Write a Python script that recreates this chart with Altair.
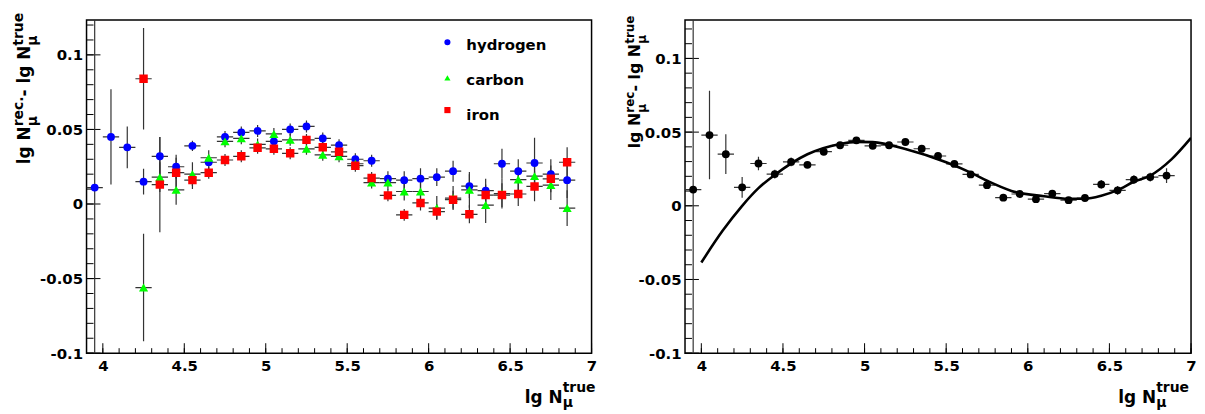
import altair as alt
import pandas as pd

FONT = "DejaVu Sans"

# ---------------- data ----------------
bin_centers = [3.95, 4.05, 4.15, 4.25, 4.35, 4.45, 4.55, 4.65, 4.75, 4.85,
               4.95, 5.05, 5.15, 5.25, 5.35, 5.45, 5.55, 5.65, 5.75, 5.85,
               5.95, 6.05, 6.15, 6.25, 6.35, 6.45, 6.55, 6.65, 6.75, 6.85]
bin_half = 0.05

hydrogen = [0.011, 0.045, 0.038, 0.015, 0.032, 0.025, 0.039, 0.028, 0.045, 0.048,
            0.049, 0.042, 0.050, 0.052, 0.044, 0.0395, 0.030, 0.029, 0.017, 0.016,
            0.017, 0.018, 0.022, 0.012, 0.009, 0.027, 0.022, 0.0275, 0.020, 0.016]
hydrogen_err = [0.15, 0.032, 0.014, 0.0087, 0.013, 0.008, 0.0035, 0.005, 0.004, 0.004,
                0.004, 0.004, 0.004, 0.004, 0.004, 0.004, 0.004, 0.004, 0.005, 0.006,
                0.007, 0.006, 0.007, 0.008, 0.008, 0.010, 0.008, 0.017, 0.010, 0.012]

heavy_centers = bin_centers[3:]
carbon = [-0.056, 0.018, 0.0095, 0.020, 0.031, 0.042, 0.044, 0.040, 0.047, 0.043,
          0.037, 0.033, 0.032, 0.027, 0.0144, 0.0144, 0.0084, 0.0084, -0.0027, 0.004,
          0.0095, -0.0007, 0.007, 0.0164, 0.0187, 0.0127, -0.0027]
carbon_err = [0.036, 0.010, 0.010, 0.008, 0.005, 0.004, 0.004, 0.004, 0.004, 0.004,
              0.004, 0.004, 0.004, 0.004, 0.004, 0.005, 0.006, 0.006, 0.008, 0.008,
              0.012, 0.012, 0.010, 0.008, 0.010, 0.010, 0.012]
iron = [0.084, 0.013, 0.021, 0.016, 0.021, 0.0295, 0.032, 0.0377, 0.037, 0.034,
        0.043, 0.038, 0.035, 0.0257, 0.0174, 0.0058, -0.0073, 0.0007, -0.0051, 0.0029,
        -0.0069, 0.006, 0.006, 0.0067, 0.0118, 0.0169, 0.028]
iron_err = [0.034, 0.032, 0.010, 0.006, 0.004, 0.004, 0.004, 0.004, 0.004, 0.004,
            0.004, 0.004, 0.004, 0.004, 0.004, 0.004, 0.004, 0.005, 0.005, 0.006,
            0.006, 0.007, 0.008, 0.008, 0.010, 0.009, 0.010]

mean_all = [0.011, 0.048, 0.035, 0.0125, 0.0287, 0.0215, 0.0298, 0.0278, 0.0367, 0.0411,
            0.0444, 0.0407, 0.0411, 0.0433, 0.0387, 0.0338, 0.0284, 0.0213, 0.014, 0.0055,
            0.008, 0.0045, 0.0082, 0.0038, 0.0053, 0.0145, 0.0105, 0.0178, 0.0195, 0.0205]
mean_err = [0.15, 0.030, 0.0135, 0.007, 0.0045, 0.003, 0.003, 0.002, 0.002, 0.002,
            0.002, 0.002, 0.002, 0.002, 0.002, 0.002, 0.002, 0.002, 0.002, 0.002,
            0.002, 0.002, 0.002, 0.002, 0.002, 0.003, 0.003, 0.003, 0.003, 0.005]

fit_x = [4.0, 4.13, 4.25, 4.35, 4.45, 4.65, 4.85, 4.95, 5.05, 5.25, 5.5, 5.65,
         5.75, 5.9, 6.1, 6.25, 6.35, 6.45, 6.55, 6.65, 6.75, 6.88, 7.0]
fit_y = [-0.0385, -0.017, 0.0, 0.012, 0.021, 0.035, 0.042, 0.0434, 0.0432, 0.0385,
         0.0295, 0.0225, 0.017, 0.0101, 0.0065, 0.0048, 0.0048, 0.0068, 0.0106,
         0.0163, 0.0205, 0.0315, 0.0461]

series_names = ["hydrogen", "carbon", "iron"]
series_colors = ["#0000ff", "#00ff00", "#ff0000"]
series_shapes = ["circle", "triangle-up", "square"]

y_major = [-0.1, -0.05, 0, 0.05, 0.1]
x_major = [4, 4.5, 5, 5.5, 6, 6.5, 7]
y_minor = [round(-0.1 + 0.01 * i, 2) for i in range(23)]
x_minor = [round(3.9 + 0.1 * i, 1) for i in range(1, 32)]

# ---------------- layout ----------------
W1, W2, H = 508, 509, 335
X_DOMAIN = [3.9, 7.0]
Y_DOMAIN_L = [-0.1, 0.1233]
Y_DOMAIN_R = [-0.1, 0.126]
one_row = pd.DataFrame({"k": [0]})

# DejaVu Sans Bold advance widths (em)
CW = {"l": 0.343, "g": 0.716, " ": 0.348, "N": 0.837, "r": 0.493, "e": 0.678,
      "c": 0.593, ".": 0.380, "-": 0.415, "t": 0.478, "u": 0.712, "\u03bc": 0.721}


def text_width(s, size):
    return sum(CW.get(c, 0.65) for c in s) * size


def series_frame(xs, ys, errs):
    return pd.DataFrame({
        "x": xs, "y": ys,
        "lo": [y - e for y, e in zip(ys, errs)],
        "hi": [y + e for y, e in zip(ys, errs)],
        "xl": [x - bin_half for x in xs],
        "xr": [x + bin_half for x in xs],
    })


def text_mark(txt, x, y, size, angle=0, align="left", baseline="alphabetic"):
    return alt.Chart(one_row).mark_text(
        text=txt, font=FONT, fontWeight="bold", fontSize=size, angle=angle,
        align=align, baseline=baseline, color="black"
    ).encode(x=alt.value(x), y=alt.value(y))


def y_title(pieces, start_y, base_x):
    marks = []
    y = start_y
    for group in pieces:
        adv = 0
        for txt, size, shift in group:
            marks.append(text_mark(txt, base_x + shift, y, size, angle=270))
            adv = max(adv, text_width(txt, size))
        y -= adv
    return marks


def x_title(right_end, base_y):
    sup_w = text_width("true", 14)
    sx = right_end - sup_w
    return [
        text_mark("lg N", sx, base_y, 17, align="right"),
        text_mark("true", sx, base_y - 11, 14),
        text_mark("\u03bc", sx, base_y + 4, 14),
    ]


def make_panel(width, ydom, series, fit=False, legend=False, ytitle=None, anchor=False):
    xs = alt.Scale(domain=X_DOMAIN, nice=False, zero=False)
    ys = alt.Scale(domain=ydom, nice=False, zero=False)
    common = dict(ticks=False, domain=False, grid=False, title=None,
                  labelFont=FONT, labelFontWeight="bold", labelFontSize=15,
                  labelColor="black", labelFlush=False, labelOverlap=False)
    xax = alt.Axis(values=x_major, labelPadding=5,
                   labelExpr="format(datum.value, '~g')", **common)
    yax = alt.Axis(values=y_major, labelPadding=4,
                   labelExpr="datum.value < 0 ? '-' + format(-datum.value, '~g') : format(datum.value, '~g')",
                   **common)

    def X(f):
        return alt.X(f, type="quantitative", scale=xs, axis=xax)

    def Y(f):
        return alt.Y(f, type="quantitative", scale=ys, axis=yax)

    layers = []
    # inward ticks
    layers.append(alt.Chart(pd.DataFrame({"v": y_minor})).mark_rule(color="black", strokeWidth=1)
                  .encode(y=Y("v"), x=alt.value(0), x2=alt.value(7)))
    layers.append(alt.Chart(pd.DataFrame({"v": y_major})).mark_rule(color="black", strokeWidth=1)
                  .encode(y=Y("v"), x=alt.value(0), x2=alt.value(14)))
    layers.append(alt.Chart(pd.DataFrame({"v": x_minor})).mark_rule(color="black", strokeWidth=1)
                  .encode(x=X("v"), y=alt.value(H), y2=alt.value(H - 5)))
    layers.append(alt.Chart(pd.DataFrame({"v": x_major})).mark_rule(color="black", strokeWidth=1)
                  .encode(x=X("v"), y=alt.value(H), y2=alt.value(H - 10)))

    # error bars
    for df, color, shape, size in series:
        layers.append(alt.Chart(df).mark_rule(color="#333333", strokeWidth=1.2, clip=True)
                      .encode(x=X("x"), y=Y("lo"), y2=alt.Y2("hi")))
        layers.append(alt.Chart(df).mark_rule(color="#333333", strokeWidth=1.2, clip=True)
                      .encode(x=X("xl"), x2=alt.X2("xr"), y=Y("y")))
    if fit:
        fdf = pd.DataFrame({"x": fit_x, "y": fit_y})
        layers.append(alt.Chart(fdf).mark_line(color="black", strokeWidth=2.6,
                                               interpolate="monotone", clip=True)
                      .encode(x=X("x"), y=Y("y")))
    for df, color, shape, size in series:
        layers.append(alt.Chart(df).mark_point(shape=shape, filled=True, size=size, color=color,
                                               opacity=1, strokeWidth=0, clip=True)
                      .encode(x=X("x"), y=Y("y")))

    if legend:
        mk_y = [22.3, 58, 90.5]
        tx_y = [29.7, 65.3, 100.3]
        for name, color, shape, my, ty in zip(series_names, series_colors, series_shapes, mk_y, tx_y):
            layers.append(alt.Chart(one_row).mark_point(shape=shape, filled=True, size=38,
                                                        color=color, opacity=1, strokeWidth=0)
                          .encode(x=alt.value(363), y=alt.value(my)))
            layers.append(text_mark(name, 382, ty, 15))

    if ytitle is not None:
        layers.extend(ytitle)
    if anchor:
        layers.append(alt.Chart(one_row).mark_rule(color="white", strokeWidth=1)
                      .encode(x=alt.value(-77.5), x2=alt.value(-76), y=alt.value(-9.5)))
    return alt.layer(*layers).properties(width=width, height=H)


left_series = [
    (series_frame(bin_centers, hydrogen, hydrogen_err), series_colors[0], "circle", 62),
    (series_frame(heavy_centers, carbon, carbon_err), series_colors[1], "triangle-up", 85),
    (series_frame(heavy_centers, iron, iron_err), series_colors[2], "square", 72),
]
right_series = [
    (series_frame(bin_centers, mean_all, mean_err), "black", "circle", 62),
]

left_ytitle = y_title(
    [[("lg N", 17, 0)], [("rec.", 14, -7), ("\u03bc", 14, 7)],
     [("- lg N", 17, 0)], [("true", 14, -7), ("\u03bc", 14, 7)]],
    start_y=145, base_x=-57)
right_ytitle = y_title(
    [[("lg N", 16, 0)], [("rec", 12, -6), ("\u03bc", 12, 6)],
     [("- lg N", 16, 0)], [("true", 12, -6), ("\u03bc", 12, 6)]],
    start_y=129, base_x=-45)

left = make_panel(W1, Y_DOMAIN_L, left_series, legend=True,
                  ytitle=left_ytitle + x_title(W1 + 4, H + 50), anchor=True)
right = make_panel(W2, Y_DOMAIN_R, right_series, fit=True,
                   ytitle=right_ytitle + x_title(W2 - 2, H + 50))

chart = alt.HConcatChart(hconcat=[left, right], spacing=94, bounds="flush", padding=0) \
    .configure_view(stroke="black", strokeWidth=1.5)

chart.save("out.html", embed_options={"renderer": "svg", "actions": False})
